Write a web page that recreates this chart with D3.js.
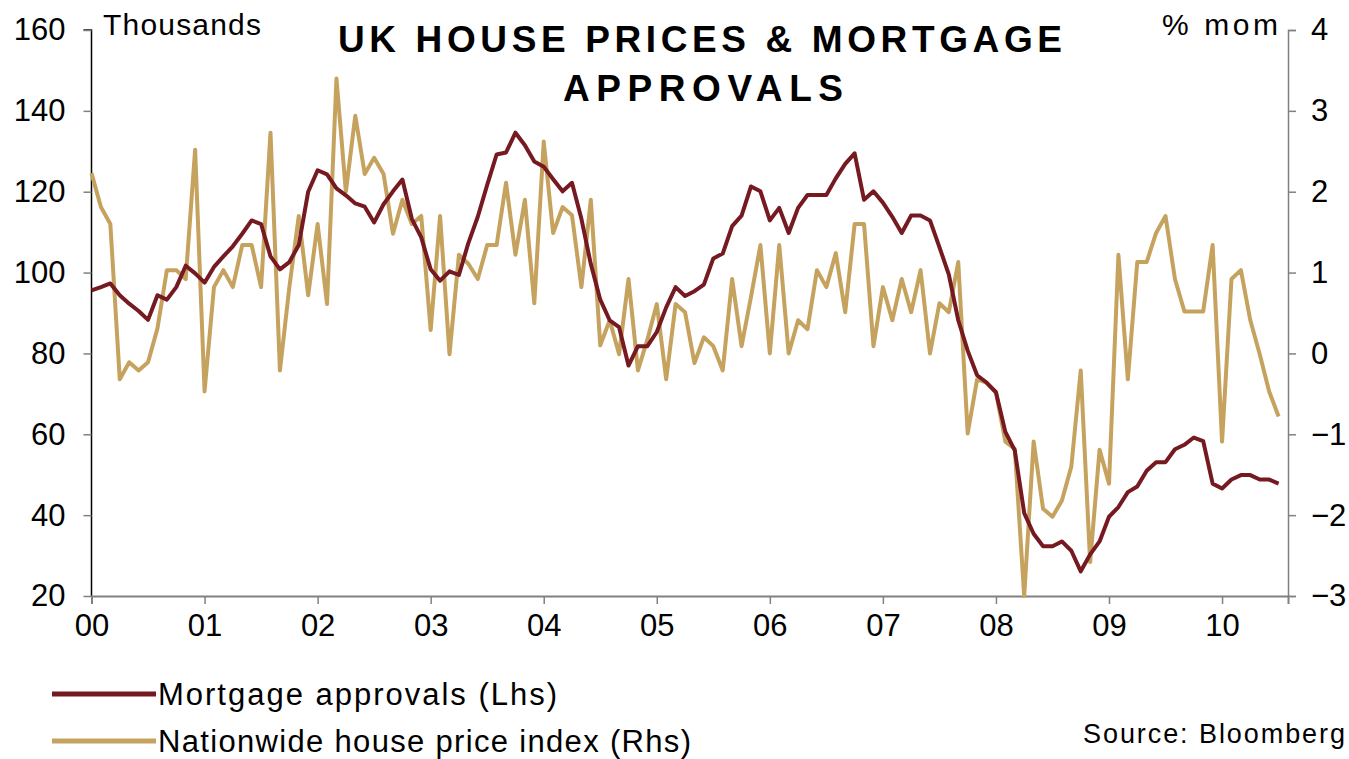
<!DOCTYPE html>
<html>
<head>
<meta charset="utf-8">
<script src="https://cdn.jsdelivr.net/npm/d3@7"></script>
<style>
  html, body { margin: 0; padding: 0; background: #fff; }
  svg text { font-family: "Liberation Sans", Arial, sans-serif; fill: #000; }
</style>
</head>
<body>
<div id="chart"></div>
<script>
// Données mensuelles, janvier 2000 -> juillet 2010 (127 mois)
const yearLabels = ["00", "01", "02", "03", "04", "05", "06", "07", "08", "09", "10"];

// Mortgage approvals, milliers (axe gauche)
const mortgage = [
  95.6, 96.4, 97.3, 94.4, 92.3, 90.5, 88.3, 94.4, 93.3, 96.4, 101.7, 99.8,
  97.5, 101.4, 104, 106.5, 109.6, 112.9, 112, 104, 100.8, 102.6, 106.8, 120,
  125.3, 124.3, 120.8, 119.1, 117.1, 116.3, 112.4, 116.9, 120.1, 123, 113.3, 108.7,
  100.8, 98, 100.3, 99.4, 107.3, 113.8, 121.7, 129.2, 129.7, 134.6, 131.5, 127.5,
  126.2, 123.1, 120.1, 122.2, 113.3, 102.1, 93.3, 88.2, 86.5, 77, 81.8, 81.8,
  85.3, 91.4, 96.4, 94.2, 95.4, 97, 103.5, 104.7, 111.5, 114.1, 121.3, 120.1,
  112.9, 116, 109.8, 116, 119.2, 119.2, 119.2, 123.3, 126.9, 129.5, 118, 120.1,
  117.3, 113.8, 109.8, 114.1, 114.1, 112.9, 106.3, 99.5, 88.2, 80.7, 74.6, 72.8,
  70.4, 60.6, 56, 40.5, 35.4, 32.3, 32.3, 33.5, 31.2, 26.1, 30.3, 33.5,
  39.6, 42, 45.7, 47.1, 51, 53.1, 53.1, 56.3, 57.4, 59.2, 58.3, 47.8,
  46.6, 48.8, 49.9, 49.9, 48.8, 48.8, 47.8
];

// Nationwide house price index, % mom (axe droit)
const nationwide = [
  2.23, 1.81, 1.6, -0.32, -0.11, -0.21, -0.11, 0.31, 1.03, 1.03, 0.92, 2.52,
  -0.47, 0.82, 1.03, 0.82, 1.34, 1.34, 0.82, 2.73, -0.21, 0.82, 1.7, 0.72,
  1.6, 0.61, 3.4, 2.0, 2.94, 2.22, 2.42, 2.22, 1.48, 1.9, 1.6, 1.7,
  0.29, 1.7, -0.01, 1.22, 1.11, 0.92, 1.34, 1.34, 2.11, 1.22, 1.9, 0.62,
  2.62, 1.49, 1.81, 1.71, 0.82, 1.9, 0.1, 0.41, -0.01, 0.92, -0.21, 0.17,
  0.61, -0.32, 0.61, 0.51, -0.12, 0.2, 0.09, -0.21, 0.92, 0.09, 0.7, 1.34,
  0.0, 1.34, 0.0, 0.41, 0.3, 1.03, 0.82, 1.24, 0.51, 1.6, 1.6, 0.09,
  0.82, 0.41, 0.92, 0.51, 1.03, 0.0, 0.62, 0.51, 1.13, -0.99, -0.32, -0.36,
  -0.48, -1.09, -1.18, -3.0, -1.09, -1.92, -2.02, -1.82, -1.4, -0.21, -2.58, -1.19,
  -1.61, 1.22, -0.32, 1.13, 1.13, 1.49, 1.7, 0.92, 0.52, 0.52, 0.52, 1.34,
  -1.09, 0.92, 1.03, 0.41, -0.01, -0.47, -0.78
];

const leftTicks = [20, 40, 60, 80, 100, 120, 140, 160];
const rightTicks = [-3, -2, -1, 0, 1, 2, 3, 4];

const width = 1349;
const height = 759;
const colMortgage = "#761a22";
const colNationwide = "#c6a25f";

const svg = d3.select("#chart")
  .append("svg")
  .attr("width", width)
  .attr("height", height);

// Échelles
const x = d3.scaleLinear().domain([0, 127]).range([91.5, 1288]);
const yL = d3.scaleLinear().domain([20, 160]).range([596, 30]);
const yR = d3.scaleLinear().domain([-3, 4]).range([596, 30]);

// Axes
const axisFont = 31;

const gLeft = svg.append("g")
  .attr("transform", `translate(${x(0)},0)`)
  .call(d3.axisLeft(yL).tickValues(leftTicks).tickSize(8).tickPadding(18));
gLeft.select(".domain").attr("stroke", "#000").attr("stroke-width", 1.5);

const gRight = svg.append("g")
  .attr("transform", `translate(${x(127)},0)`)
  .call(d3.axisRight(yR).tickValues(rightTicks).tickSize(8).tickPadding(15)
    .tickFormat(d3.format("d")));
gRight.select(".domain").attr("stroke", "#808080").attr("stroke-width", 1.5);

const gBottom = svg.append("g")
  .attr("transform", `translate(0,${yL(20)})`)
  .call(d3.axisBottom(x).tickValues(yearLabels.map((d, i) => i * 12))
    .tickSize(8).tickPadding(10)
    .tickFormat((d, i) => yearLabels[i]));
gBottom.select(".domain").attr("stroke", "#808080").attr("stroke-width", 2);

[gLeft, gRight, gBottom].forEach((g) => {
  g.selectAll(".tick line").attr("stroke", "#808080").attr("stroke-width", 1.5);
  g.selectAll(".tick text")
    .style("font-size", axisFont + "px")
    .style("font-family", '"Liberation Sans", Arial, sans-serif')
    .attr("fill", "#000");
});
gLeft.selectAll(".domain").attr("d", `M-8,${yL(160)}H0V${yL(20)}`);

// Lignes
const lineL = d3.line().x((d, i) => x(i)).y((d) => yL(d));
const lineR = d3.line().x((d, i) => x(i)).y((d) => yR(d));

svg.append("path")
  .datum(nationwide)
  .attr("d", lineR)
  .attr("fill", "none")
  .attr("stroke", colNationwide)
  .attr("stroke-width", 4)
  .attr("stroke-linejoin", "round");

svg.append("path")
  .datum(mortgage)
  .attr("d", lineL)
  .attr("fill", "none")
  .attr("stroke", colMortgage)
  .attr("stroke-width", 4)
  .attr("stroke-linejoin", "round");

// Titre
svg.append("text")
  .attr("x", 338).attr("y", 52)
  .attr("textLength", 724).attr("lengthAdjust", "spacing")
  .style("font-size", "37px").style("font-weight", "bold")
  .text("UK HOUSE PRICES & MORTGAGE");

svg.append("text")
  .attr("x", 563).attr("y", 101)
  .attr("textLength", 280).attr("lengthAdjust", "spacing")
  .style("font-size", "37px").style("font-weight", "bold")
  .text("APPROVALS");

// Unités
svg.append("text")
  .attr("x", 103).attr("y", 35)
  .attr("textLength", 158).attr("lengthAdjust", "spacing")
  .style("font-size", "30px")
  .text("Thousands");

svg.append("text")
  .attr("x", 1162).attr("y", 35)
  .attr("textLength", 116).attr("lengthAdjust", "spacing")
  .style("font-size", "30px")
  .text("% mom");

// Légende
const legendItems = [
  { label: "Mortgage approvals (Lhs)", color: colMortgage, y: 694, w: 399 },
  { label: "Nationwide house price index (Rhs)", color: colNationwide, y: 741, w: 533 },
];

const legend = svg.append("g");
legendItems.forEach((d) => {
  legend.append("line")
    .attr("x1", 52).attr("x2", 156)
    .attr("y1", d.y).attr("y2", d.y)
    .attr("stroke", d.color)
    .attr("stroke-width", 5);
  legend.append("text")
    .attr("x", 158).attr("y", d.y + 11)
    .attr("textLength", d.w).attr("lengthAdjust", "spacing")
    .style("font-size", "31px")
    .text(d.label);
});

svg.append("text")
  .attr("x", 1083).attr("y", 743)
  .attr("textLength", 262).attr("lengthAdjust", "spacing")
  .style("font-size", "27px")
  .text("Source: Bloomberg");
</script>
</body>
</html>
